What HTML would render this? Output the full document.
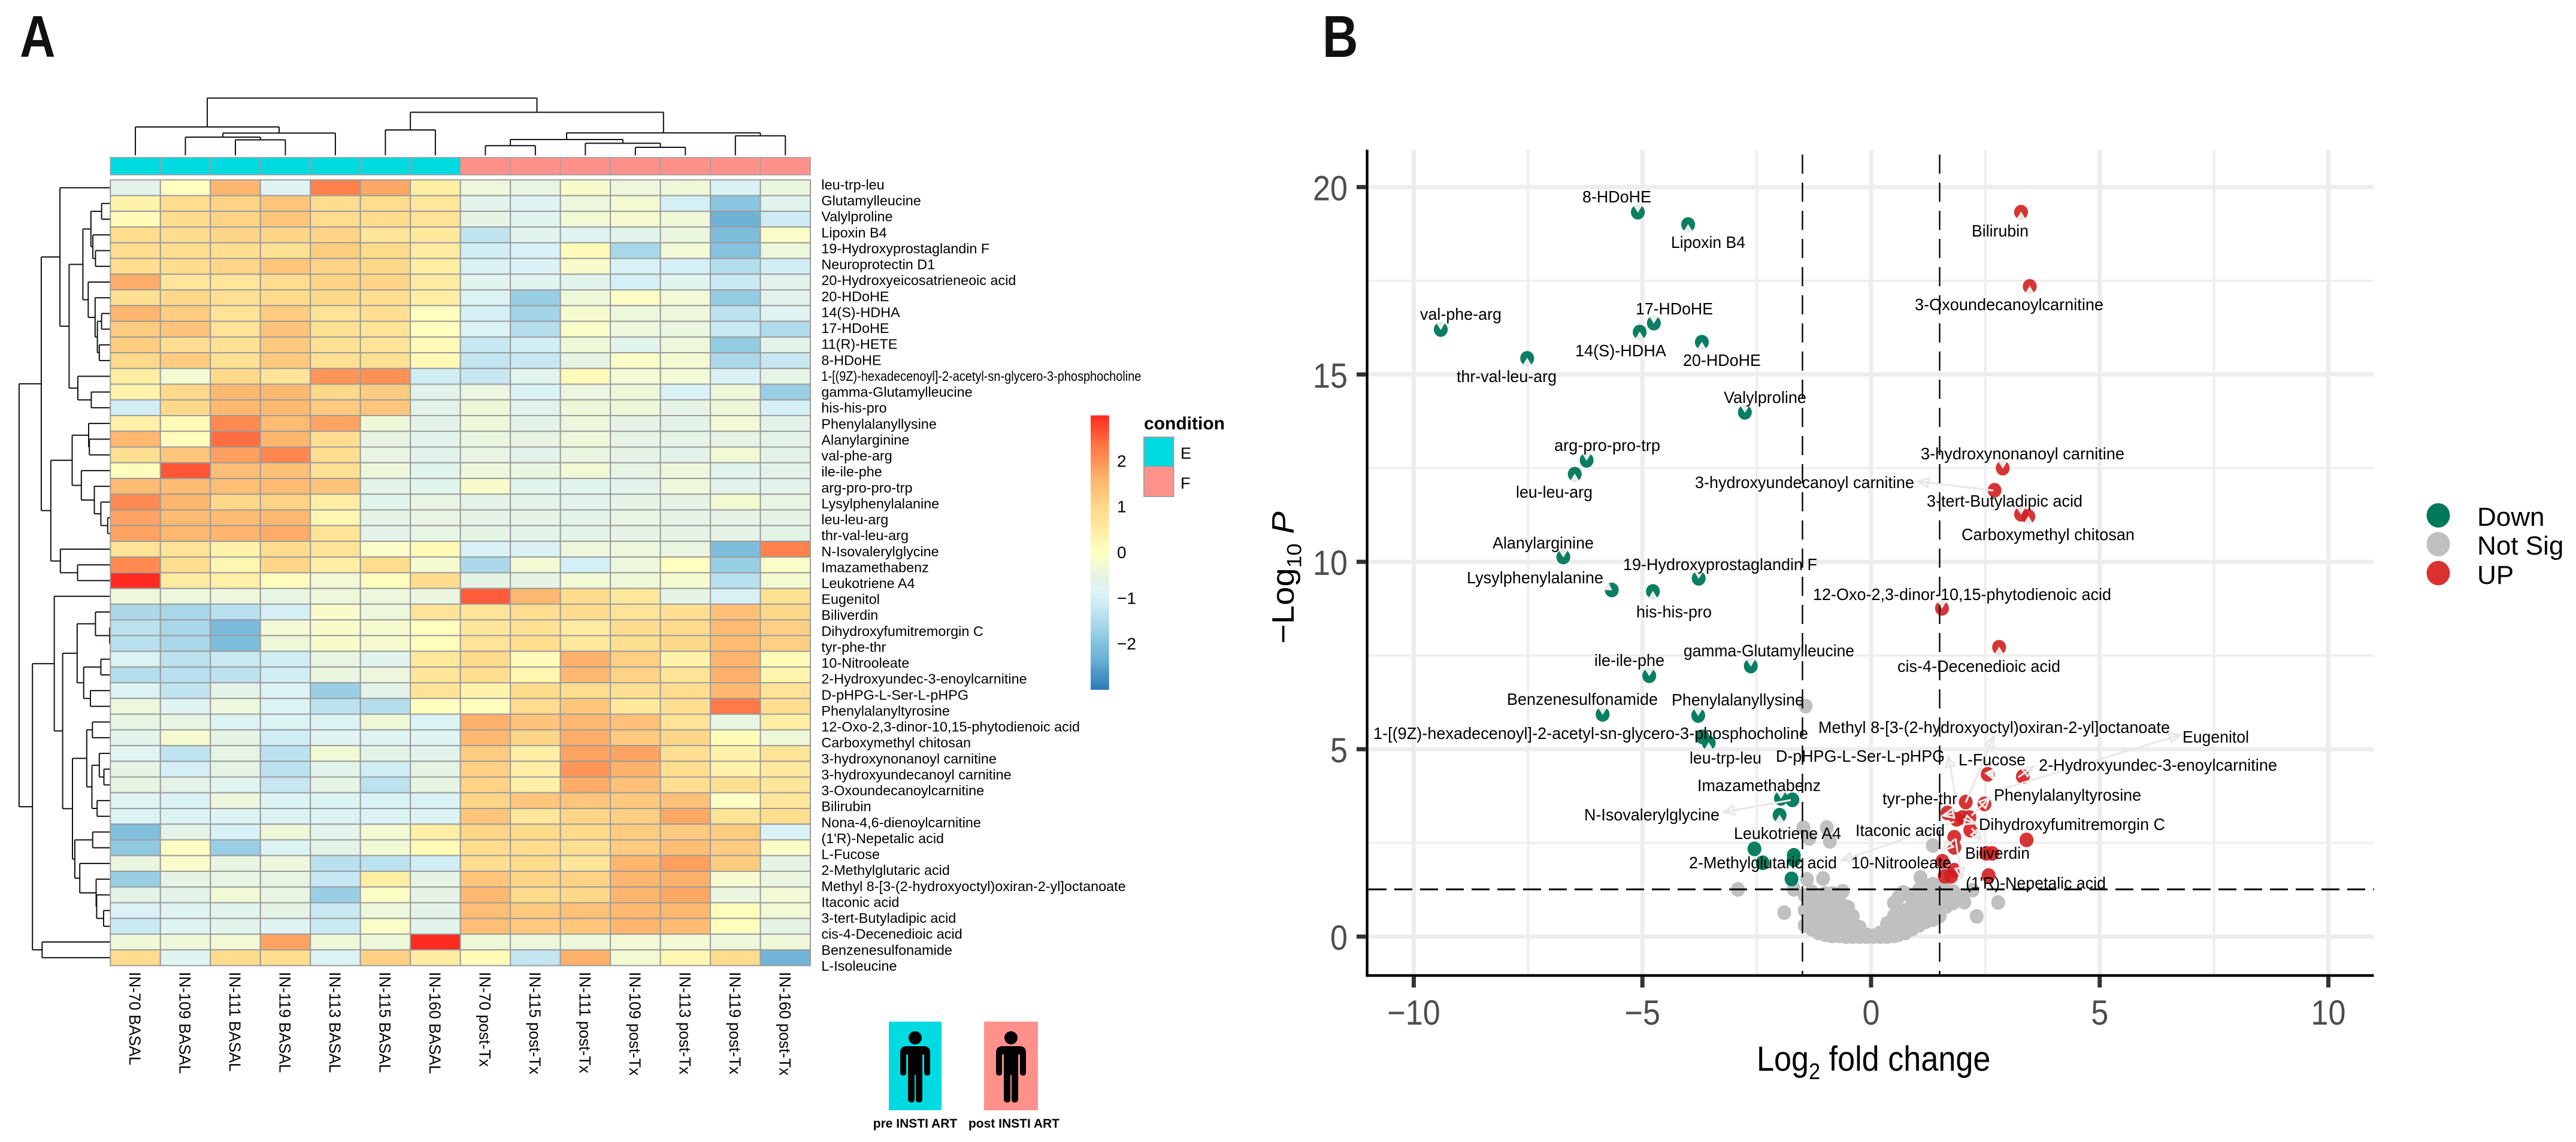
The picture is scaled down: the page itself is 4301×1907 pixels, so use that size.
<!DOCTYPE html>
<html lang="en">
<head>
<meta charset="utf-8">
<title>Metabolite heatmap and volcano plot</title>
<style>
html,body{margin:0;padding:0;background:#fff;width:4301px;height:1907px;overflow:hidden}
svg{position:absolute;left:0;top:0;display:block}
text{font-family:"Liberation Sans",Arial,sans-serif}
.vl{font-size:27.5px;fill:#000}
</style>
</head>
<body>
<svg id="figure" xmlns="http://www.w3.org/2000/svg" width="4301" height="1907" viewBox="0 0 4301 1907">
<defs>
<marker id="open-arrow" markerUnits="userSpaceOnUse" markerWidth="24" markerHeight="24" refX="16" refY="8" orient="auto" viewBox="-2 -2 22 20">
<path d="M0,1 L16,8 L0,15 Z" fill="none" stroke="#e8e8e8" stroke-width="3"/>
</marker>
</defs>
<rect width="4301" height="1907" fill="#fff"/>
<text transform="translate(33,95) scale(.84,1)" font-size="98" font-weight="700" fill="#111">A</text>
<text transform="translate(2208,95) scale(.84,1)" font-size="98" font-weight="700" fill="#111">B</text>

<g id="heatmap-panel">
<g id="col-dendro"></g>
<g id="row-dendro"></g>
<g id="annotation-bar"></g>
<g id="heat-cells"></g>
<g id="row-labels"></g>
<g id="col-labels"></g>
<g id="colorbar"></g>
<g>
<text x="1910" y="717" font-size="30" font-weight="700">condition</text>
<rect x="1910" y="730" width="49.5" height="49" fill="#00dbe2" stroke="#a0a0a0" stroke-width="2"/>
<rect x="1910" y="779" width="49.5" height="50" fill="#ff918a" stroke="#a0a0a0" stroke-width="2"/>
<text x="1971" y="766" font-size="27">E</text>
<text x="1971" y="816" font-size="27">F</text>
</g>
<g>
<rect x="1484" y="1706" width="88" height="148" fill="#00dbe2"/>
<g transform="translate(1528,1785)">
<circle cx="0" cy="-52" r="11" fill="#000"/>
<path fill="#000" d="M-14,-38 H14 Q25,-38 25,-27 V6 Q25,11 20,11 Q15,11 15,6 V-24 H12 V50 Q12,56 6,56 Q1,56 1,50 V10 H-1 V50 Q-1,56 -6,56 Q-12,56 -12,50 V-24 H-15 V6 Q-15,11 -20,11 Q-25,11 -25,6 V-27 Q-25,-38 -14,-38Z"/>
</g>
<text x="1528" y="1883" font-size="21" font-weight="700" text-anchor="middle">pre INSTI ART</text>
</g>
<g>
<rect x="1643" y="1706" width="90" height="148" fill="#ff918a"/>
<g transform="translate(1688,1785)">
<circle cx="0" cy="-52" r="11" fill="#000"/>
<path fill="#000" d="M-14,-38 H14 Q25,-38 25,-27 V6 Q25,11 20,11 Q15,11 15,6 V-24 H12 V50 Q12,56 6,56 Q1,56 1,50 V10 H-1 V50 Q-1,56 -6,56 Q-12,56 -12,50 V-24 H-15 V6 Q-15,11 -20,11 Q-25,11 -25,6 V-27 Q-25,-38 -14,-38Z"/>
</g>
<text x="1693" y="1883" font-size="21" font-weight="700" text-anchor="middle">post INSTI ART</text>
</g>
</g>

<g id="volcano-panel">
<g id="v-grid"></g>
<g id="v-points"></g>
<g id="v-heads"></g>
<g stroke="#e8e8e8" stroke-width="3.2" fill="none">
<line x1="2990" y1="1336" x2="2878" y2="1356" marker-end="url(#open-arrow)"/>
<line x1="3328" y1="819" x2="3202" y2="804" marker-end="url(#open-arrow)"/>
<line x1="3267" y1="1340" x2="3253" y2="1263" marker-end="url(#open-arrow)"/>
<line x1="3282" y1="1340" x2="3329" y2="1230" marker-end="url(#open-arrow)"/>
<line x1="3345" y1="1317" x2="3640" y2="1227" marker-end="url(#open-arrow)"/>
<line x1="3370" y1="1298" x2="3395" y2="1280" marker-end="url(#open-arrow)"/>
<line x1="3292" y1="1362" x2="3322" y2="1332" marker-end="url(#open-arrow)"/>
<line x1="3278" y1="1368" x2="3298" y2="1375" marker-end="url(#open-arrow)"/>
<line x1="3292" y1="1383" x2="3308" y2="1403" marker-end="url(#open-arrow)"/>
<line x1="3263" y1="1372" x2="3075" y2="1437" marker-end="url(#open-arrow)"/>
<line x1="3262" y1="1358" x2="3244" y2="1362" marker-end="url(#open-arrow)"/>
<line x1="3263" y1="1402" x2="3243" y2="1420" marker-end="url(#open-arrow)"/>
<line x1="3265" y1="1400" x2="3275" y2="1467" marker-end="url(#open-arrow)"/>
</g>
<polygon points="3313,1291 3329,1283 3329,1303" fill="#ebebeb"/>
<g id="v-thresholds"></g>
<g id="v-axes"></g>
<g id="v-labels">
<text class="vl" data-label="8-HDoHE" x="2642" y="338" textLength="115" lengthAdjust="spacingAndGlyphs">8-HDoHE</text>
<text class="vl" data-label="Lipoxin B4" x="2790" y="414" textLength="124" lengthAdjust="spacingAndGlyphs">Lipoxin B4</text>
<text class="vl" data-label="val-phe-arg" x="2371" y="534" textLength="136" lengthAdjust="spacingAndGlyphs">val-phe-arg</text>
<text class="vl" data-label="17-HDoHE" x="2731" y="525" textLength="129" lengthAdjust="spacingAndGlyphs">17-HDoHE</text>
<text class="vl" data-label="14(S)-HDHA" x="2630" y="595" textLength="152" lengthAdjust="spacingAndGlyphs">14(S)-HDHA</text>
<text class="vl" data-label="20-HDoHE" x="2810" y="611" textLength="130" lengthAdjust="spacingAndGlyphs">20-HDoHE</text>
<text class="vl" data-label="thr-val-leu-arg" x="2432" y="638" textLength="167" lengthAdjust="spacingAndGlyphs">thr-val-leu-arg</text>
<text class="vl" data-label="Valylproline" x="2878" y="673" textLength="138" lengthAdjust="spacingAndGlyphs">Valylproline</text>
<text class="vl" data-label="arg-pro-pro-trp" x="2595" y="753" textLength="177" lengthAdjust="spacingAndGlyphs">arg-pro-pro-trp</text>
<text class="vl" data-label="leu-leu-arg" x="2531" y="831" textLength="128" lengthAdjust="spacingAndGlyphs">leu-leu-arg</text>
<text class="vl" data-label="3-hydroxyundecanoyl carnitine" x="2830" y="815" textLength="366" lengthAdjust="spacingAndGlyphs">3-hydroxyundecanoyl carnitine</text>
<text class="vl" data-label="Alanylarginine" x="2492" y="916" textLength="169" lengthAdjust="spacingAndGlyphs">Alanylarginine</text>
<text class="vl" data-label="Bilirubin" x="3292" y="395" textLength="95" lengthAdjust="spacingAndGlyphs">Bilirubin</text>
<text class="vl" data-label="3-Oxoundecanoylcarnitine" x="3197" y="518" textLength="315" lengthAdjust="spacingAndGlyphs">3-Oxoundecanoylcarnitine</text>
<text class="vl" data-label="3-hydroxynonanoyl carnitine" x="3207" y="767" textLength="340" lengthAdjust="spacingAndGlyphs">3-hydroxynonanoyl carnitine</text>
<text class="vl" data-label="3-tert-Butyladipic acid" x="3217" y="846" textLength="260" lengthAdjust="spacingAndGlyphs">3-tert-Butyladipic acid</text>
<text class="vl" data-label="Carboxymethyl chitosan" x="3275" y="902" textLength="289" lengthAdjust="spacingAndGlyphs">Carboxymethyl chitosan</text>
<text class="vl" data-label="12-Oxo-2,3-dinor-10,15-phytodienoic acid" x="3027" y="1002" textLength="498" lengthAdjust="spacingAndGlyphs">12-Oxo-2,3-dinor-10,15-phytodienoic acid</text>
<text class="vl" data-label="Lysylphenylalanine" x="2449" y="974" textLength="228" lengthAdjust="spacingAndGlyphs">Lysylphenylalanine</text>
<text class="vl" data-label="19-Hydroxyprostaglandin F" x="2710" y="952" textLength="324" lengthAdjust="spacingAndGlyphs">19-Hydroxyprostaglandin F</text>
<text class="vl" data-label="his-his-pro" x="2732" y="1031" textLength="126" lengthAdjust="spacingAndGlyphs">his-his-pro</text>
<text class="vl" data-label="cis-4-Decenedioic acid" x="3168" y="1122" textLength="272" lengthAdjust="spacingAndGlyphs">cis-4-Decenedioic acid</text>
<text class="vl" data-label="gamma-Glutamylleucine" x="2811" y="1096" textLength="285" lengthAdjust="spacingAndGlyphs">gamma-Glutamylleucine</text>
<text class="vl" data-label="ile-ile-phe" x="2662" y="1112" textLength="117" lengthAdjust="spacingAndGlyphs">ile-ile-phe</text>
<text class="vl" data-label="Benzenesulfonamide" x="2516" y="1177" textLength="252" lengthAdjust="spacingAndGlyphs">Benzenesulfonamide</text>
<text class="vl" data-label="Phenylalanyllysine" x="2791" y="1178" textLength="221" lengthAdjust="spacingAndGlyphs">Phenylalanyllysine</text>
<text class="vl" data-label="1-[(9Z)-hexadecenoyl]-2-acetyl-sn-glycero-3-phosphocholine" x="2293" y="1234" textLength="726" lengthAdjust="spacingAndGlyphs">1-[(9Z)-hexadecenoyl]-2-acetyl-sn-glycero-3-phosphocholine</text>
<text class="vl" data-label="leu-trp-leu" x="2821" y="1275" textLength="120" lengthAdjust="spacingAndGlyphs">leu-trp-leu</text>
<text class="vl" data-label="D-pHPG-L-Ser-L-pHPG" x="2965" y="1272" textLength="282" lengthAdjust="spacingAndGlyphs">D-pHPG-L-Ser-L-pHPG</text>
<text class="vl" data-label="Imazamethabenz" x="2834" y="1321" textLength="206" lengthAdjust="spacingAndGlyphs">Imazamethabenz</text>
<text class="vl" data-label="N-Isovalerylglycine" x="2645" y="1370" textLength="226" lengthAdjust="spacingAndGlyphs">N-Isovalerylglycine</text>
<text class="vl" data-label="Leukotriene A4" x="2895" y="1401" textLength="179" lengthAdjust="spacingAndGlyphs">Leukotriene A4</text>
<text class="vl" data-label="2-Methylglutaric acid" x="2820" y="1450" textLength="247" lengthAdjust="spacingAndGlyphs">2-Methylglutaric acid</text>
<text class="vl" data-label="10-Nitrooleate" x="3091" y="1450" textLength="167" lengthAdjust="spacingAndGlyphs">10-Nitrooleate</text>
<text class="vl" data-label="Itaconic acid" x="3098" y="1396" textLength="149" lengthAdjust="spacingAndGlyphs">Itaconic acid</text>
<text class="vl" data-label="tyr-phe-thr" x="3143" y="1343" textLength="125" lengthAdjust="spacingAndGlyphs">tyr-phe-thr</text>
<text class="vl" data-label="Methyl 8-[3-(2-hydroxyoctyl)oxiran-2-yl]octanoate" x="3036" y="1224" textLength="587" lengthAdjust="spacingAndGlyphs">Methyl 8-[3-(2-hydroxyoctyl)oxiran-2-yl]octanoate</text>
<text class="vl" data-label="Eugenitol" x="3644" y="1240" textLength="111" lengthAdjust="spacingAndGlyphs">Eugenitol</text>
<text class="vl" data-label="2-Hydroxyundec-3-enoylcarnitine" x="3404" y="1287" textLength="398" lengthAdjust="spacingAndGlyphs">2-Hydroxyundec-3-enoylcarnitine</text>
<text class="vl" data-label="L-Fucose" x="3270" y="1278" textLength="112" lengthAdjust="spacingAndGlyphs">L-Fucose</text>
<text class="vl" data-label="Phenylalanyltyrosine" x="3329" y="1337" textLength="246" lengthAdjust="spacingAndGlyphs">Phenylalanyltyrosine</text>
<text class="vl" data-label="Dihydroxyfumitremorgin C" x="3304" y="1386" textLength="311" lengthAdjust="spacingAndGlyphs">Dihydroxyfumitremorgin C</text>
<text class="vl" data-label="Biliverdin" x="3281" y="1434" textLength="108" lengthAdjust="spacingAndGlyphs">Biliverdin</text>
<text class="vl" data-label="(1'R)-Nepetalic acid" x="3282" y="1484" textLength="234" lengthAdjust="spacingAndGlyphs">(1'R)-Nepetalic acid</text>
</g>
<text transform="translate(2933,1788) scale(.9,1)" font-size="58" fill="#000">Log<tspan font-size="38" dy="14">2</tspan><tspan dy="-14"> fold change</tspan></text>
<text transform="translate(2160,1075) rotate(-90) scale(.97,.9)" font-size="58" fill="#000">−Log<tspan font-size="38" dy="14">10</tspan><tspan dy="-14"> </tspan><tspan font-style="italic">P</tspan></text>
<g>
<ellipse cx="4071" cy="860.6" rx="19.5" ry="20.4" fill="#00795a"/>
<ellipse cx="4071" cy="908.6" rx="19.5" ry="20.4" fill="#c0c0c0"/>
<ellipse cx="4071" cy="957" rx="19.5" ry="20.4" fill="#d93030"/>
<text x="4136" y="878" font-size="44">Down</text>
<text x="4136" y="926" font-size="44">Not Sig</text>
<text x="4136" y="975" font-size="44">UP</text>
</g>
</g>
</svg>

<script>
/* ---------- heatmap data ---------- */
const sampleNames = ["IN-70 BASAL","IN-109 BASAL","IN-111 BASAL","IN-119 BASAL","IN-113 BASAL","IN-115 BASAL","IN-160 BASAL","IN-70 post-Tx","IN-115 post-Tx","IN-111 post-Tx","IN-109 post-Tx","IN-113 post-Tx","IN-119 post-Tx","IN-160 post-Tx"];
const sampleCondition = ["E","E","E","E","E","E","E","F","F","F","F","F","F","F"];
const metaboliteNames = ["leu-trp-leu","Glutamylleucine","Valylproline","Lipoxin B4","19-Hydroxyprostaglandin F","Neuroprotectin D1","20-Hydroxyeicosatrieneoic acid","20-HDoHE","14(S)-HDHA","17-HDoHE","11(R)-HETE","8-HDoHE","1-[(9Z)-hexadecenoyl]-2-acetyl-sn-glycero-3-phosphocholine","gamma-Glutamylleucine","his-his-pro","Phenylalanyllysine","Alanylarginine","val-phe-arg","ile-ile-phe","arg-pro-pro-trp","Lysylphenylalanine","leu-leu-arg","thr-val-leu-arg","N-Isovalerylglycine","Imazamethabenz","Leukotriene A4","Eugenitol","Biliverdin","Dihydroxyfumitremorgin C","tyr-phe-thr","10-Nitrooleate","2-Hydroxyundec-3-enoylcarnitine","D-pHPG-L-Ser-L-pHPG","Phenylalanyltyrosine","12-Oxo-2,3-dinor-10,15-phytodienoic acid","Carboxymethyl chitosan","3-hydroxynonanoyl carnitine","3-hydroxyundecanoyl carnitine","3-Oxoundecanoylcarnitine","Bilirubin","Nona-4,6-dienoylcarnitine","(1'R)-Nepetalic acid","L-Fucose","2-Methylglutaric acid","Methyl 8-[3-(2-hydroxyoctyl)oxiran-2-yl]octanoate","Itaconic acid","3-tert-Butyladipic acid","cis-4-Decenedioic acid","Benzenesulfonamide","L-Isoleucine"];
const heatValues = [
[-.6,0,1.6,-.8,2.2,1.75,.45,-.4,-.5,-.15,-.4,-.35,-.9,-.45],
[.35,.9,1.1,1.3,.9,.9,.6,-.65,-.8,-.4,-.25,-1,-1.9,-.7],
[.1,.9,1.1,1.3,.9,.9,.7,-.55,-.75,-.3,-.2,-.35,-2.3,-1.1],
[.9,.9,1.05,1.05,1.1,.6,.55,-1.3,-.7,-.8,-.65,-.45,-2.05,-.1],
[.85,.85,.85,.75,1.2,.95,.5,-1.05,-.9,.1,-1.6,-.3,-1.95,-.4],
[.85,.9,1.05,1.3,1.1,1,.45,-.95,-.9,-.15,-.95,-1,-1.45,-1.05],
[1.7,.6,.6,.9,1.1,1.05,.5,-.75,-.7,-.7,-1,-.75,-1.15,-.65],
[.8,1,.8,.95,1,.85,.45,-.85,-1.75,-.35,-.05,-.3,-1.8,-.65],
[1.6,1.2,.65,1.2,.7,.8,0,-1,-1.65,-.2,-.4,-.4,-1.35,-.8],
[1.2,1.35,.7,1.35,.75,.7,0,-.85,-1.45,-.1,-.4,-.45,-1.15,-1.5],
[1.2,.85,.75,1.25,.75,.7,.15,-1.2,-1.05,-.35,-.7,-.4,-1.8,-.6],
[1,1.2,.75,1.25,.8,.75,.15,-1.25,-1.2,-.55,-.1,-.25,-1.55,-1.2],
[.45,-.25,1,.7,1.95,2,-1.05,-1.2,-.7,.15,-.3,-.3,-.9,-.55],
[.35,1,1.55,1.55,1,1.2,-.65,-.45,-.9,-.45,-.35,-.9,-.35,-1.75],
[-1.05,1,1.55,1.55,1.25,1.3,-.6,-.35,-.65,-.35,-.35,-.55,-.35,-1],
[.4,.15,2.1,1.5,1.8,-.35,-.6,-.35,-.6,-.4,-.55,-.6,-.3,-.6],
[1.55,.05,2.4,1.6,.85,-.5,-.65,-.45,-.5,-.35,-.55,-.55,-.55,-.6],
[.8,1.3,1.85,2.15,.85,-.5,-.65,-.5,-.65,-.45,-.55,-.65,-.3,-.6],
[.05,2.6,1.45,1.4,.75,-.4,-.7,-.4,-.45,-.3,-.55,-.4,-.7,-.6],
[1.5,1.5,1.45,1.5,1.35,-.6,-.7,-.15,-.7,-.7,-.65,-.4,-.65,-.65],
[2.1,1.6,1,1.1,.45,-.7,-.5,-.6,-.6,-.65,-.55,-.55,-.25,-.5],
[1.8,1.5,1.5,1.55,.25,-.55,-.5,-.55,-.55,-.6,-.5,-.55,-.55,-.55],
[1.8,1.55,1.6,1.7,.7,-.6,-.5,-.55,-.6,-.6,-.55,-.55,-.55,-.6],
[.65,.7,.35,.9,.7,-.1,.15,-.9,-.9,-.4,-.4,-.45,-2.05,2.2],
[2.1,.85,.25,1.05,.45,.9,-.2,-1.55,-.25,-1,-.4,0,-1.75,-.1],
[3,.5,.4,.05,-.3,.05,.9,-.55,-.55,-.3,-.35,-.2,-1.4,-.25],
[-.4,-.4,-.4,-.5,-.35,-.4,-.45,2.55,1.55,.9,.55,-.55,-.95,.75],
[-1.55,-1.6,-1.4,-1,-.15,-.4,.65,.65,.85,.9,.65,.8,1.4,1],
[-1.35,-1.6,-2.1,-.3,-.15,-.2,0,.6,.75,.5,.9,.95,1.5,1.15],
[-1.4,-1.6,-2.05,-.35,-.15,-.2,.05,.7,.85,.55,.8,1,1.5,1.15],
[-.85,-1.35,-1.15,-1.05,-.5,-.7,.55,.95,.1,1.65,1.15,.35,1.6,.1],
[-1.45,-1.4,-1.35,-1.05,-.45,-.4,.6,.85,.25,1.55,1.1,.7,1.65,.3],
[-.85,-1.3,-.6,-.85,-1.75,-.6,.65,.35,.95,.85,.8,.9,1.55,.7],
[-.4,-.8,-.4,-.85,-1.35,-1.45,0,.05,.9,1.3,.55,.8,2.3,.85],
[-.5,-.5,-.85,-.85,-.85,-.35,-.85,1.65,1.35,1.55,1.4,.7,-.5,.45],
[-.65,-.2,-.55,-1.05,-.8,-.8,-.8,1.55,1.05,1.7,1.25,1.05,.1,-.35],
[-.75,-1.3,-.55,-1.35,-.3,-.6,-.65,1.2,.45,1.8,1.8,.8,.35,.7],
[-.55,-1,-.55,-1.35,-.65,-1.05,-.55,1.15,.45,1.95,1.65,.85,.35,.55],
[-.5,-.6,-.75,-1.2,-.55,-1.35,-.5,1.1,.4,1.7,1.4,.85,.8,.6],
[-.8,-.9,-.4,-.85,-.85,-.9,-.9,1.05,1.3,1.3,1.25,1.4,-.05,.6],
[-.85,-.85,-.85,-.85,-.85,-.85,-.85,1.3,.6,1.05,1.15,1.75,.7,.85],
[-2,-.6,-.95,-.35,-.7,-.25,.45,1.05,.95,.95,1.2,1.25,1.2,-.9],
[-1.85,-.05,-1.75,-.85,-.6,-.3,.15,.9,.9,.8,1.2,1.45,1.2,-.1],
[-.45,-.15,-.5,-.4,-1.4,-1.35,-1.05,.85,.95,.6,1.6,1.85,1.2,-.55],
[-1.75,-.55,-.5,-.5,-1.2,.45,-.55,1.3,1.05,1.1,1.6,1.65,-.2,-.45],
[-.6,-.6,-.3,-.5,-1.75,-.05,-.55,1.55,.95,1,1.6,1.75,-.45,-.3],
[-.9,-.8,-.7,-.55,-1.15,-.4,-.6,1.45,1.25,1.4,1.55,1.55,.05,-.3],
[-1.15,-.8,-.65,-.8,-1.15,-.1,-.65,1.45,1.25,1.3,1.6,1.5,.05,-.55],
[-.35,-.35,-.3,1.8,-.35,-.35,3,-.35,-.4,-.35,-.3,-.3,-.4,-.35],
[.9,-.75,.9,.85,-.85,1.15,.5,.1,-1.25,1.65,-.25,.25,.9,-2.25]
];
const colorbarTicks = [2,1,0,-1,-2];
const rampValues = [-3,-2.3,-2,-1.7,-1.4,-1,-.8,-.6,-.4,-.2,0,.3,.6,1,1.3,1.6,2,2.3,2.7,3];
const rampColors = ["#2a7ab9","#6fb2d6","#80c0de","#9ed2e6","#b9e0ee","#d4f0f6","#dff4f3","#e3f3e8","#ecf7dc","#f5fbce","#ffffbf","#fff5ae","#ffe69a","#ffd98a","#ffc67b","#feb56e","#ff9155","#ff7a48","#ff4a30","#ff2a20"];
/* merge trees: [merge distance, child, child]; numbers at the leaves are row/column indices */
const columnTree = [95.6,[47.4,0,[37.1,[30.4,1,[25.9,2,3]],4]],[71.9,[42.4,5,6],[37.5,[26.4,[16.1,7,8],[20.1,9,[13.4,10,11]]],[32.6,12,13]]]];
const rowTree = [152.4,
 [115.4,
  [84.2,0,[68.9,[45.9,[32.5,[14.7,1,2],[29.3,3,[24.9,4,5]]],[37,6,[25.5,7,[21.7,[14.7,8,9],[18.5,10,11]]]]],[54.3,12,[31.9,13,14]]]],
  [99.5,[63.8,[36.3,15,[35.1,16,17]],[48.5,18,[26.8,19,[15.9,20,[4.5,21,22]]]]],[83.5,23,[54.8,24,25]]]],
 [130.1,
  [93.7,26,[79.7,[55.5,[24.9,27,[1.3,28,29]],[44.6,[15.9,30,31],[33.3,32,33]]],
   [63.3,[39.5,[30,34,35],[30.8,[18.5,36,[10.8,37,38]],[22.1,39,40]]],[59.4,[29.6,41,42],[51.1,43,[23.8,44,[22.9,45,[11.3,46,47]]]]]]]],
  [114,48,49]]];

/* ---------- volcano data ---------- */
const downNames = ["8-HDoHE","Lipoxin B4","val-phe-arg","17-HDoHE","14(S)-HDHA","20-HDoHE","thr-val-leu-arg","Valylproline","arg-pro-pro-trp","leu-leu-arg","Alanylarginine","Lysylphenylalanine","19-Hydroxyprostaglandin F","his-his-pro","gamma-Glutamylleucine","ile-ile-phe","Benzenesulfonamide","Phenylalanyllysine","1-[(9Z)-hexadecenoyl]-2-acetyl-sn-glycero-3-phosphocholine","leu-trp-leu","Imazamethabenz","N-Isovalerylglycine","Leukotriene A4","Glutamylleucine","2-Methylglutaric acid","Neuroprotectin D1","11(R)-HETE","L-Isoleucine"];
const downLfc = [-5.1,-4,-9.41,-4.75,-5.06,-3.7,-7.52,-2.76,-6.22,-6.48,-6.73,-5.67,-3.77,-4.77,-2.63,-4.85,-5.87,-3.78,-3.69,-3.55,-1.97,-1.72,-2,-2.55,-2.37,-1.69,-1.69,-1.74];
const downLogP = [19.33,19,16.2,16.37,16.13,15.86,15.43,13.99,12.71,12.34,10.13,9.25,9.56,9.21,7.22,6.96,5.93,5.9,5.33,5.17,3.69,3.65,3.24,2.34,1.97,2.17,2.05,1.54];
const upNames = ["Bilirubin","3-Oxoundecanoylcarnitine","3-hydroxynonanoyl carnitine","3-hydroxyundecanoyl carnitine","3-tert-Butyladipic acid","Carboxymethyl chitosan","12-Oxo-2,3-dinor-10,15-phytodienoic acid","cis-4-Decenedioic acid","L-Fucose","2-Hydroxyundec-3-enoylcarnitine","Eugenitol","Phenylalanyltyrosine","tyr-phe-thr","Itaconic acid","D-pHPG-L-Ser-L-pHPG","Methyl 8-[3-(2-hydroxyoctyl)oxiran-2-yl]octanoate","Dihydroxyfumitremorgin C","Biliverdin-a","(1'R)-Nepetalic acid-a","Nona-4,6-dienoylcarnitine","Biliverdin","Biliverdin-b","10-Nitrooleate","(1'R)-Nepetalic acid-b","3-Methyl-a","3-Methyl-b","(1'R)-Nepetalic acid"];
const upLfc = [3.28,3.47,2.88,2.7,3.28,3.44,1.55,2.8,2.55,3.32,2.07,2.48,1.67,1.87,2,2.15,2.17,1.82,1.82,3.4,2.52,2.65,1.56,1.82,1.61,1.75,2.57];
const upLogP = [19.33,17.35,12.5,11.91,11.27,11.21,8.76,7.72,4.33,4.27,3.59,3.54,3.3,3.13,3.18,3.18,2.84,2.65,2.38,2.58,2.22,2.22,2.01,1.77,1.61,1.61,1.63];
const nsLfc = [-2.91,-1.9,-1.43,-1.48,-.97,-1.35,-.9,-1.4,-1.05,1.35,1.08,-.62,-1.69,.7,2.22,2.78,2.31,2.04,-.5,
-1.45,-1.45,-1.45,-1.3,-1.3,-1.3,-1.3,-1.15,-1.15,-1.15,-1.15,-1,-1,-1,-1,-1,-.85,-.85,-.85,-.85,-.85,-.7,-.7,-.7,-.7,-.7,-.55,-.55,-.55,-.55,-.4,-.4,-.4,-.4,-.25,-.25,-.25,-.1,-.1,.05,.05,.2,.2,.35,.35,.35,.5,.5,.5,.5,.6,.6,.6,.6,.75,.75,.75,.75,.9,.9,.9,.9,1.05,1.05,1.05,1.05,1.2,1.2,1.2,1.2,1.35,1.35,1.35,1.35,1.5,1.5,1.5,1.5,1.65,1.65,1.65,1.8,1.8,2];
const nsLogP = [1.26,.64,6.15,2.91,2.91,2.62,2.54,1.53,1.55,2.43,1.58,1.21,1.26,1.18,1.24,.91,.54,.92,.78,
.3,.7,1.1,.2,.5,.9,1.2,.1,.35,.7,1,.05,.3,.6,.9,1.15,.02,.25,.5,.85,1.15,.02,.2,.5,.8,1.1,0,.2,.5,.8,0,.15,.4,.55,0,.1,.25,0,.05,0,.02,0,.1,0,.15,.35,.02,.25,.55,.9,.05,.3,.6,1.05,.1,.4,.7,1.15,.2,.5,.85,1,.3,.6,.95,1.25,.4,.7,1,1.35,.45,.8,1.1,1.4,.55,.85,1.15,1.3,.8,1.05,1.25,.9,1.2,1.1];
const xMajorTicks = [-10,-5,0,5,10];
const xMinorTicks = [-7.5,-2.5,2.5,7.5];
const yMajorTicks = [0,5,10,15,20];
const yMinorTicks = [2.5,7.5,12.5,17.5];
const lfcCutoffs = [-1.5,1.5];
const logPCutoff = 1.26;
const arrowHeadNames = ["8-HDoHE","Lipoxin B4","val-phe-arg","17-HDoHE","14(S)-HDHA","20-HDoHE","thr-val-leu-arg","Valylproline","arg-pro-pro-trp","leu-leu-arg","Alanylarginine","Lysylphenylalanine","19-Hydroxyprostaglandin F","his-his-pro","gamma-Glutamylleucine","ile-ile-phe","Benzenesulfonamide","Phenylalanyllysine","1-[(9Z)-hexadecenoyl]-2-acetyl-sn-glycero-3-phosphocholine","leu-trp-leu","Imazamethabenz","Leukotriene A4","Bilirubin","3-Oxoundecanoylcarnitine","3-hydroxynonanoyl carnitine","3-tert-Butyladipic acid","Carboxymethyl chitosan","12-Oxo-2,3-dinor-10,15-phytodienoic acid","cis-4-Decenedioic acid"];

/* ---------- helpers ---------- */
const NS = "http://www.w3.org/2000/svg";
function mk(tag, attrs, parent) {
  const el = document.createElementNS(NS, tag);
  for (const k in attrs) el.setAttribute(k, attrs[k]);
  parent.appendChild(el);
  return el;
}
function byId(id) { return document.getElementById(id); }
function hexToRgb(h) { return [parseInt(h.slice(1,3),16),parseInt(h.slice(3,5),16),parseInt(h.slice(5,7),16)]; }
function colorFor(v) {
  const c = Math.max(-3, Math.min(3, v));
  for (let i = 1; i < rampValues.length; i++) {
    if (c <= rampValues[i]) {
      const t = (c - rampValues[i-1]) / (rampValues[i] - rampValues[i-1]);
      const a = hexToRgb(rampColors[i-1]), b = hexToRgb(rampColors[i]);
      return "rgb(" + a.map((x, j) => Math.round(x + (b[j] - x) * t)).join(",") + ")";
    }
  }
  return rampColors[rampColors.length - 1];
}

/* ---------- heatmap ---------- */
const heatLeft = 184.3, heatTop = 300.4, cellW = 83.48, cellH = 26.24;
const colX = i => heatLeft + cellW * i;
const rowY = i => heatTop + cellH * i;

sampleCondition.forEach((c, i) => {
  const el = mk("rect", {x: colX(i), y: 263, width: cellW, height: 29, fill: c === "E" ? "#00dbe2" : "#ff918a", stroke: "#a0a0a0", "stroke-width": 1.6}, byId("annotation-bar"));
  
  
});

heatValues.forEach((row, r) => {
  row.forEach((v, c) => {
    const el = mk("rect", {x: colX(c), y: rowY(r), width: cellW, height: cellH, fill: colorFor(v), stroke: "#9b9b9b", "stroke-width": 2}, byId("heat-cells"));
    
    
  });
});

metaboliteNames.forEach((name, i) => {
  const el = mk("text", {x: 1371.4, y: 316.5 + 26.62 * i, "font-size": 23.4, fill: "#000"}, byId("row-labels"));
  
  
  el.textContent = name;
  if (name.length > 50) {
    el.setAttribute("textLength", 534);
    el.setAttribute("lengthAdjust", "spacingAndGlyphs");
  }
});

sampleNames.forEach((name, i) => {
  const el = mk("text", {transform: "translate(" + (colX(i) + cellW / 2 - 10) + ",1623) rotate(90) scale(.97,1)", "font-size": 27, fill: "#000"}, byId("col-labels"));
  
  
  el.textContent = name;
});

/* dendrograms */
function drawTree(node, leafPos, distPos, segs) {
  if (typeof node === "number") return {pos: leafPos(node), dist: distPos(0)};
  const a = drawTree(node[1], leafPos, distPos, segs);
  const b = drawTree(node[2], leafPos, distPos, segs);
  const d = distPos(node[0]);
  segs.push([a.pos, a.dist, a.pos, d], [a.pos, d, b.pos, d], [b.pos, d, b.pos, b.dist]);
  return {pos: (a.pos + b.pos) / 2, dist: d};
}
const colSegs = [];
drawTree(columnTree, i => colX(i) + cellW / 2, h => 259.4 - h, colSegs);
const colPath = mk("path", {d: colSegs.map(s => "M" + s[0] + "," + s[1] + "L" + s[2] + "," + s[3]).join(""), fill: "none", stroke: "#111", "stroke-width": 2}, byId("col-dendro"));


const rowSegs = [];
drawTree(rowTree, i => rowY(i) + cellH / 2, h => heatLeft - h, rowSegs);
const rowPath = mk("path", {d: rowSegs.map(s => "M" + s[1] + "," + s[0] + "L" + s[3] + "," + s[2]).join(""), fill: "none", stroke: "#111", "stroke-width": 2}, byId("row-dendro"));



/* colorbar */
const barY = v => 922.5 - 76.3 * v;
for (let k = 0; k < 100; k++) {
  const v0 = 3 - k * 0.06;
  const el = mk("rect", {x: 1821, y: barY(v0), width: 30.7, height: 76.3 * 0.06 + .5, fill: colorFor(v0 - .03)}, byId("colorbar"));
  
  
}
colorbarTicks.forEach(t => {
  const el = mk("text", {x: 1865, y: barY(t) + 9.5, "font-size": 28, fill: "#000"}, byId("colorbar"));
  
  
  el.textContent = String(t).replace("-", "−");
});

/* ---------- volcano ---------- */
const xS = v => 3124 + 76.35 * v;
const yS = v => 1564 - 62.58 * v;
const gridLeft = 2284, gridRight = 3963.5, gridTop = 250, gridBottom = 1627;
const grid = byId("v-grid");
xMinorTicks.forEach(t => {
  const el = mk("line", {x1: xS(t), x2: xS(t), y1: gridTop, y2: gridBottom, stroke: "#eeeeee", "stroke-width": 4}, grid);
  
  
});
yMinorTicks.forEach(t => {
  const el = mk("line", {x1: gridLeft, x2: gridRight, y1: yS(t), y2: yS(t), stroke: "#eeeeee", "stroke-width": 3.6}, grid);
  
  
});
xMajorTicks.forEach(t => {
  const el = mk("line", {x1: xS(t), x2: xS(t), y1: gridTop, y2: gridBottom, stroke: "#ededed", "stroke-width": 7}, grid);
  
  
});
yMajorTicks.forEach(t => {
  const el = mk("line", {x1: gridLeft, x2: gridRight, y1: yS(t), y2: yS(t), stroke: "#ededed", "stroke-width": 7}, grid);
  
  
});

const pointsGroup = byId("v-points");
nsLfc.forEach((v, i) => {
  const el = mk("ellipse", {cx: xS(v), cy: yS(nsLogP[i]), rx: 11.6, ry: 12.3, fill: "#c0c0c0"}, pointsGroup);
  
  
});
downLfc.forEach((v, i) => {
  const el = mk("ellipse", {cx: xS(v), cy: yS(downLogP[i]), rx: 11.6, ry: 12.3, fill: "#00795a", "fill-opacity": .96}, pointsGroup);
  
  
});
upLfc.forEach((v, i) => {
  const el = mk("ellipse", {cx: xS(v), cy: yS(upLogP[i]), rx: 11.6, ry: 12.3, fill: "#d31f1f", "fill-opacity": .9}, pointsGroup);
  
  
});

/* small arrowheads: tip on the point, base towards its label */
const labelEls = {};
document.querySelectorAll("#v-labels text").forEach(t => { labelEls[t.getAttribute("data-label")] = t; });
function addHead(name, lfc, logP) {
  if (arrowHeadNames.indexOf(name) < 0 || !labelEls[name]) return;
  const px = xS(lfc), py = yS(logP);
  const b = labelEls[name].getBBox();
  const nx = Math.max(b.x, Math.min(b.x + b.width, px));
  const ny = Math.max(b.y + 4, Math.min(b.y + b.height - 4, py));
  const len = Math.hypot(nx - px, ny - py) || 1;
  const dx = (nx - px) / len, dy = (ny - py) / len;
  const baseX = px + dx * 12, baseY = py + dy * 12;
  const pts = [[px - dx * 1, py - dy * 1], [baseX - dy * 8, baseY + dx * 8], [baseX + dy * 8, baseY - dx * 8]];
  const el = mk("polygon", {points: pts.map(p => p[0].toFixed(1) + "," + p[1].toFixed(1)).join(" "), fill: "#ebebeb"}, byId("v-heads"));
  
  
}
downNames.forEach((n, i) => addHead(n, downLfc[i], downLogP[i]));
upNames.forEach((n, i) => addHead(n, upLfc[i], upLogP[i]));

/* thresholds */
const thresholds = byId("v-thresholds");
lfcCutoffs.forEach(c => {
  const el = mk("line", {x1: xS(c), x2: xS(c), y1: 258, y2: 1627, stroke: "#000", "stroke-width": 2.4, "stroke-dasharray": "32 15"}, thresholds);
  
  
});
const pLine = mk("line", {x1: 2285, x2: 3963.5, y1: yS(logPCutoff), y2: yS(logPCutoff), stroke: "#000", "stroke-width": 3, "stroke-dasharray": "30 13"}, thresholds);



/* axes */
const axes = byId("v-axes");
const yAxisLine = mk("line", {x1: 2282.6, x2: 2282.6, y1: 250, y2: 1631, stroke: "#000", "stroke-width": 4.4}, axes);


const xAxisLine = mk("line", {x1: 2280.4, x2: 3963.5, y1: 1629, y2: 1629, stroke: "#000", "stroke-width": 4.6}, axes);


xMajorTicks.forEach(t => {
  const tick = mk("line", {x1: xS(t), x2: xS(t), y1: 1631, y2: 1649, stroke: "#333", "stroke-width": 7}, axes);
  
  
  const lab = mk("text", {transform: "translate(" + xS(t) + ",1711) scale(.9,1)", "font-size": 58, fill: "#4d4d4d", "text-anchor": "middle"}, axes);
  
  
  lab.textContent = String(t).replace("-", "−");
});
yMajorTicks.forEach(t => {
  const tick = mk("line", {x1: 2265, x2: 2281, y1: yS(t), y2: yS(t), stroke: "#333", "stroke-width": 7}, axes);
  
  
  const lab = mk("text", {transform: "translate(2250," + (yS(t) + 22) + ") scale(.9,1)", "font-size": 58, fill: "#4d4d4d", "text-anchor": "end"}, axes);
  
  
  lab.textContent = String(t);
});
</script>
</body>
</html>
